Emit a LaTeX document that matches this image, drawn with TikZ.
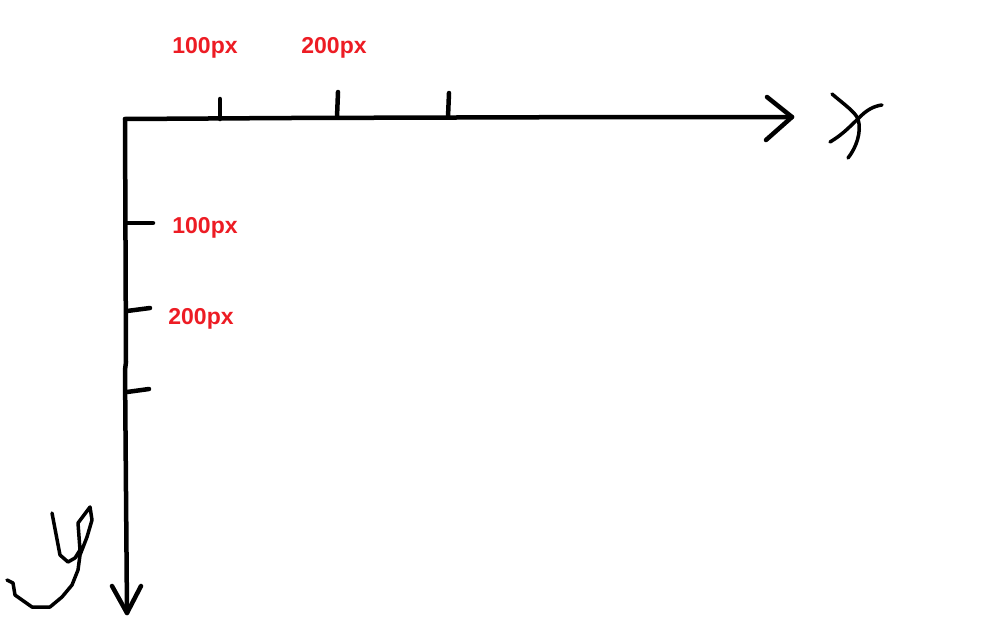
\documentclass[tikz,border=0pt]{standalone}
\usepackage{fontspec}
\setmainfont{Liberation Sans}
\definecolor{lbl}{HTML}{ED1C24}
\begin{document}
\begin{tikzpicture}[x=1pt,y=-1pt,
  pen/.style={line width=4.5pt,line cap=round,line join=round,black},
  thin pen/.style={line width=3.5pt,line cap=round,line join=round,black},
  lab/.style={text=lbl,font=\bfseries\fontsize{23}{25}\selectfont,inner sep=0pt}]
\useasboundingbox[fill=white] (0,0) rectangle (993,619);
% axes
\coordinate (O) at (125,119);
\coordinate (xend) at (792,117);
\coordinate (yend) at (127,613);
\draw[pen] (O) -- (290,118) -- (620,117) -- (xend);
\draw[pen] (767,97) -- (xend) -- (766,140);
\draw[pen] (O) -- (126,362) -- (125,370) -- (yend);
\draw[pen] (112,586) -- (yend) -- (141,586);
% x ticks
\draw[pen] (220,119) -- (220,99);
\draw[pen] (337,117) -- (338,92);
\draw[pen] (448,117) -- (449,93);
% y ticks
\draw[pen] (127,223) -- (153,223);
\draw[pen] (127,311) -- (150,308);
\draw[pen] (127,392) -- (149,389);
% labels
\node[lab] (tx1) at (205,48) {100px};
\node[lab] (tx2) at (334,48) {200px};
\node[lab] (ty1) at (205,228) {100px};
\node[lab] (ty2) at (201,319) {200px};
% handwritten x
\draw[thin pen] (832,94) .. controls (845,105) and (855,112) .. (858,119) .. controls (862,132) and (856,148) .. (848,158);
\draw[thin pen] (830,142) .. controls (845,133) and (852,124) .. (858,119) .. controls (866,110) and (874,106) .. (882,105);
% handwritten y
\draw[thin pen] (52,513) -- (60,555) -- (68,562) -- (75,558) -- (80,550) -- (78,523) -- (90,507) -- (92,520) -- (87,537) -- (80,555) -- (78,570) -- (72,585) -- (62,597) -- (50,607) -- (32,607) -- (15,595) -- (13,583) -- (7,580);
\end{tikzpicture}
\end{document}
